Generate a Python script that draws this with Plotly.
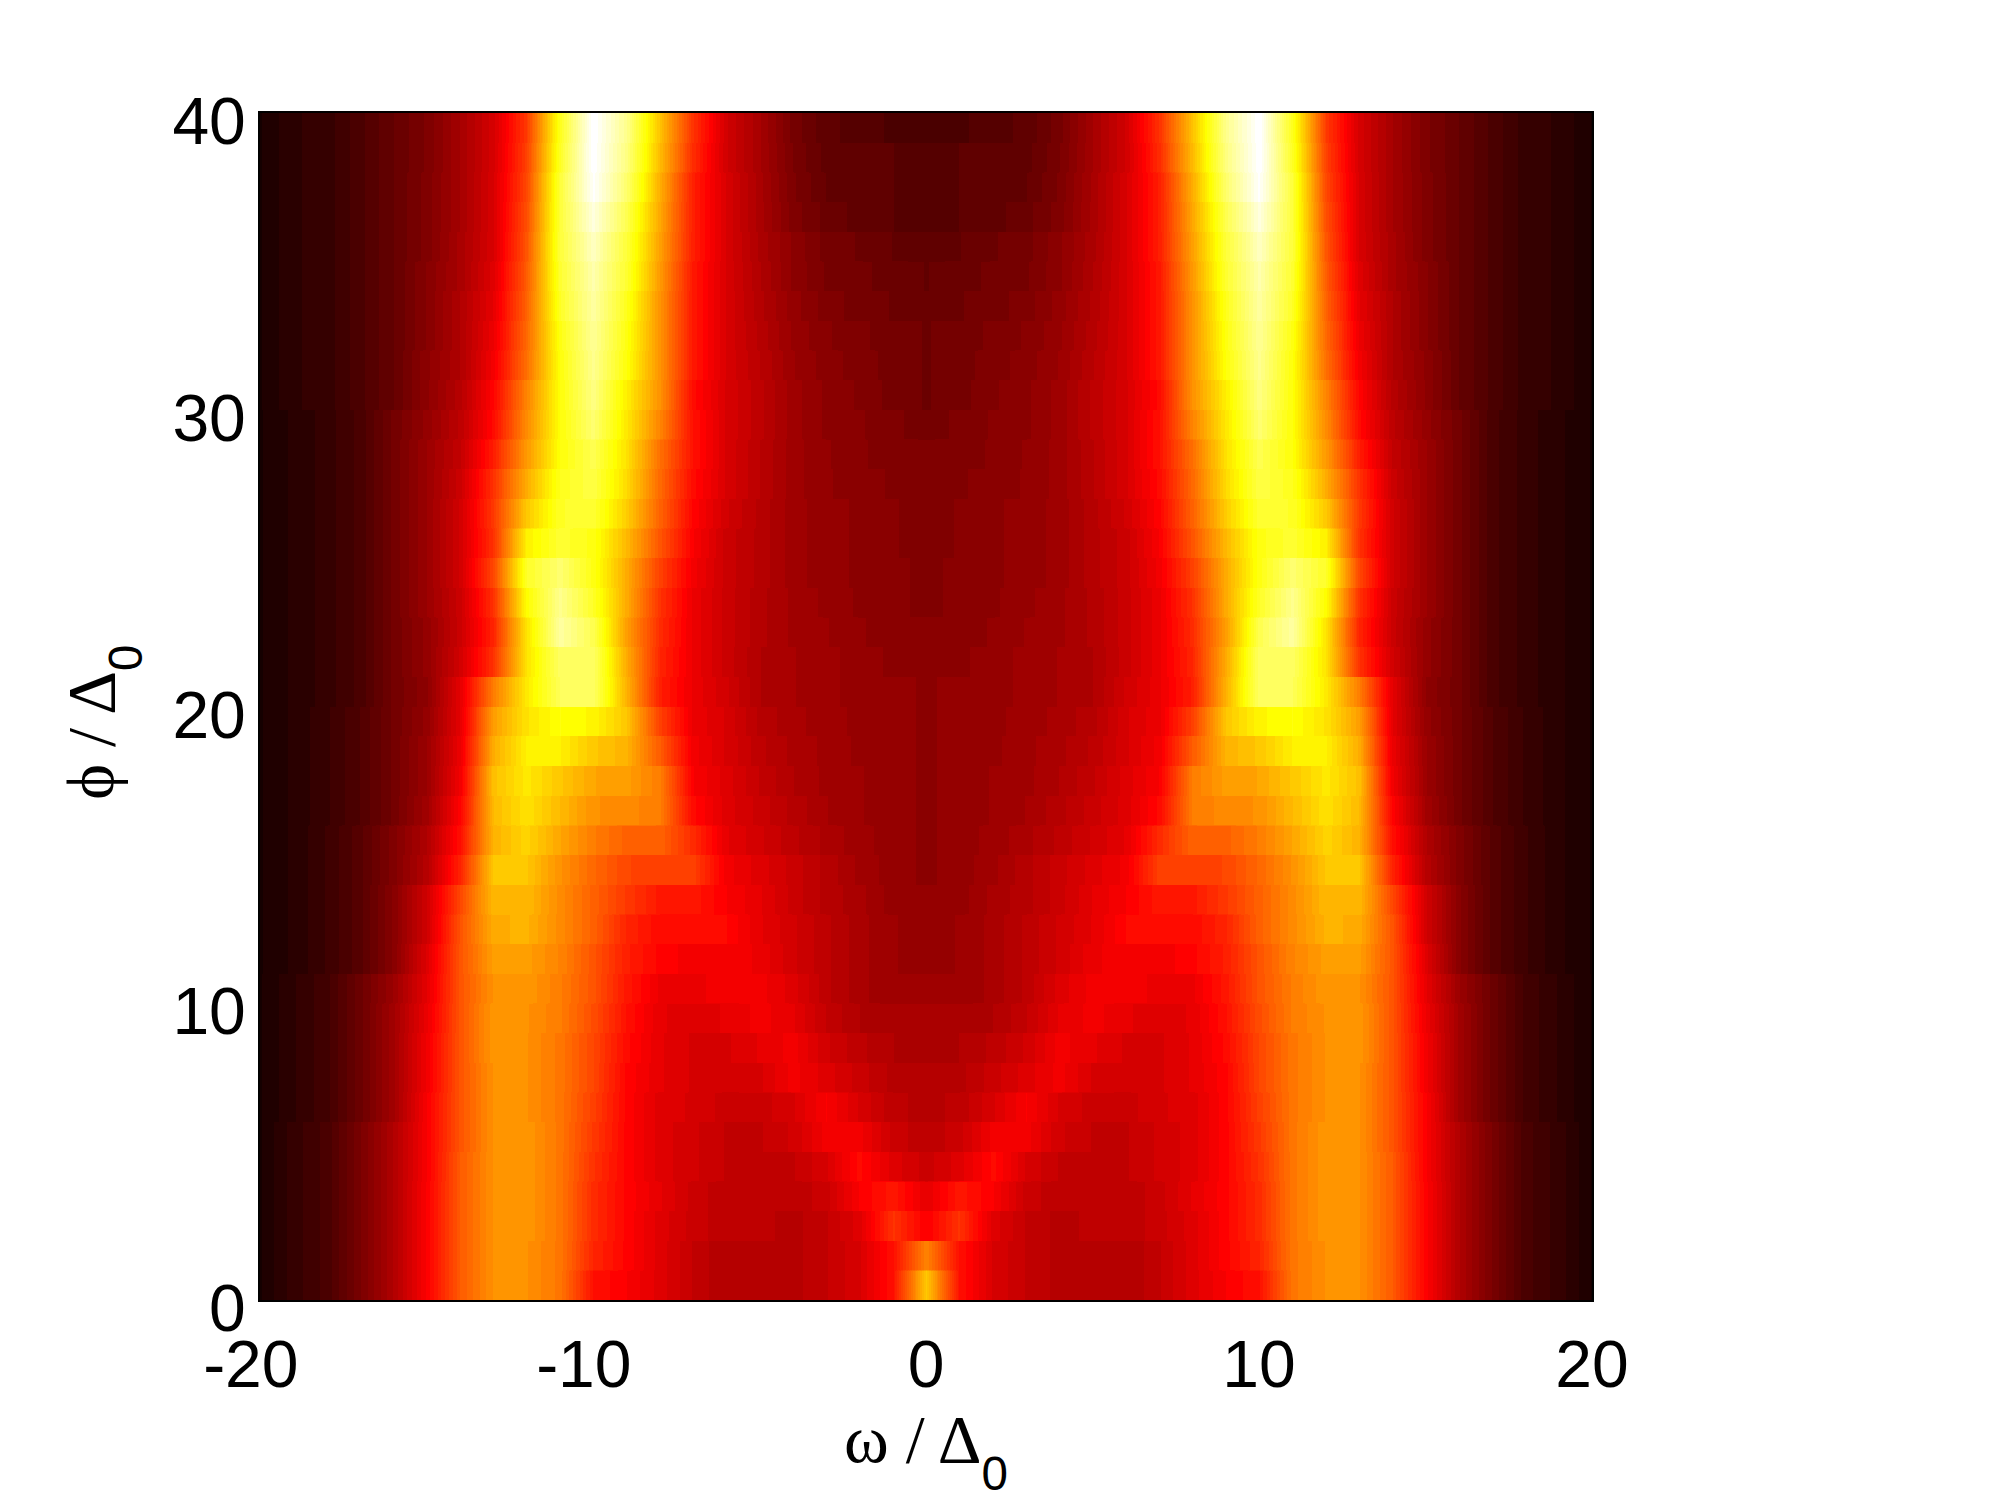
import plotly.graph_objects as go

# Intensity, one row per unit of phi (row 0 = phi 0..1).
# Columns are omega = -20 .. 0; the map is mirror symmetric about omega = 0.
omega_left = list(range(-20, 1))
rows_left = [
 [.03,.07,.10,.17,.25,.365,.50,.58,.58,.54,.39,.36,.32,.28,.25,.25,.26,.28,.31,.39,.66],
 [.03,.07,.10,.17,.25,.365,.50,.58,.58,.54,.42,.37,.32,.28,.25,.25,.26,.28,.31,.39,.56],
 [.03,.07,.10,.17,.25,.365,.50,.58,.59,.54,.43,.37,.32,.29,.27,.27,.26,.28,.32,.44,.36],
 [.03,.07,.10,.17,.25,.365,.50,.58,.59,.54,.43,.37,.33,.29,.27,.27,.27,.29,.36,.40,.33],
 [.03,.07,.10,.17,.25,.36,.50,.58,.59,.54,.44,.37,.32,.30,.28,.28,.28,.31,.38,.32,.29],
 [.03,.07,.10,.17,.25,.36,.49,.58,.59,.54,.45,.37,.32,.30,.28,.28,.30,.35,.35,.29,.27],
 [.03,.06,.09,.15,.23,.36,.49,.58,.58,.54,.46,.37,.32,.31,.29,.29,.31,.36,.31,.27,.26],
 [.03,.06,.09,.15,.23,.35,.49,.58,.58,.54,.47,.37,.33,.31,.30,.31,.35,.32,.29,.26,.26],
 [.03,.06,.09,.15,.23,.35,.49,.59,.58,.54,.47,.38,.33,.31,.31,.33,.35,.30,.27,.25,.245],
 [.03,.06,.09,.15,.23,.34,.49,.59,.58,.55,.48,.39,.33,.32,.33,.35,.33,.28,.25,.235,.235],
 [.03,.06,.09,.15,.22,.33,.49,.58,.59,.55,.49,.40,.34,.34,.35,.35,.32,.27,.24,.22,.22],
 [.03,.05,.08,.12,.19,.32,.49,.60,.60,.56,.49,.41,.37,.35,.355,.34,.30,.27,.24,.22,.21],
 [.03,.05,.08,.12,.19,.30,.49,.62,.63,.57,.51,.42,.38,.375,.375,.33,.30,.27,.24,.22,.21],
 [.03,.05,.08,.12,.19,.30,.47,.64,.64,.57,.51,.45,.40,.40,.36,.33,.29,.26,.24,.21,.21],
 [.03,.05,.08,.12,.18,.26,.42,.66,.66,.58,.52,.47,.46,.46,.35,.32,.29,.26,.23,.21,.20],
 [.03,.05,.08,.12,.18,.25,.39,.63,.68,.61,.55,.51,.51,.43,.33,.30,.27,.245,.225,.21,.20],
 [.03,.05,.075,.11,.16,.23,.37,.64,.70,.64,.58,.57,.55,.38,.32,.29,.26,.235,.22,.21,.20],
 [.03,.05,.075,.11,.16,.22,.35,.65,.71,.66,.61,.60,.55,.36,.32,.28,.25,.23,.22,.21,.20],
 [.03,.05,.075,.11,.16,.22,.34,.62,.72,.72,.66,.63,.50,.35,.31,.27,.245,.23,.215,.21,.20],
 [.03,.05,.075,.11,.16,.21,.33,.60,.70,.75,.73,.66,.46,.34,.31,.26,.24,.225,.215,.21,.20],
 [.03,.05,.07,.10,.16,.20,.33,.55,.71,.83,.84,.63,.41,.34,.30,.25,.235,.225,.21,.21,.20],
 [.03,.05,.07,.10,.16,.21,.30,.44,.70,.84,.84,.62,.42,.34,.29,.25,.235,.225,.21,.20,.19],
 [.03,.05,.07,.10,.16,.21,.29,.42,.70,.90,.82,.60,.43,.34,.29,.255,.23,.22,.205,.195,.19],
 [.03,.05,.07,.10,.16,.22,.29,.44,.74,.88,.78,.62,.44,.34,.29,.255,.23,.215,.20,.19,.185],
 [.03,.05,.07,.10,.16,.22,.30,.47,.78,.85,.76,.62,.46,.35,.29,.26,.225,.21,.20,.19,.185],
 [.03,.05,.07,.10,.16,.22,.30,.44,.72,.79,.76,.64,.49,.36,.29,.26,.225,.21,.20,.19,.175],
 [.03,.05,.07,.10,.16,.22,.30,.45,.66,.78,.79,.67,.51,.37,.30,.26,.225,.21,.20,.19,.175],
 [.03,.05,.07,.10,.16,.22,.29,.44,.62,.77,.81,.69,.52,.38,.31,.265,.225,.205,.195,.185,.175],
 [.03,.05,.07,.10,.16,.22,.28,.41,.59,.75,.82,.70,.53,.39,.31,.265,.225,.205,.19,.18,.175],
 [.03,.05,.07,.10,.16,.21,.27,.38,.57,.75,.85,.71,.56,.39,.31,.27,.225,.20,.19,.175,.165],
 [.03,.06,.07,.105,.14,.20,.26,.37,.56,.75,.87,.72,.58,.38,.31,.27,.225,.20,.185,.165,.155],
 [.03,.06,.07,.105,.14,.20,.25,.35,.53,.75,.88,.75,.58,.40,.31,.265,.22,.195,.18,.165,.155],
 [.03,.06,.07,.105,.14,.19,.25,.34,.52,.76,.89,.76,.58,.40,.31,.26,.215,.19,.175,.165,.155],
 [.03,.06,.07,.105,.14,.19,.25,.33,.51,.78,.90,.77,.58,.40,.31,.255,.21,.18,.165,.155,.145],
 [.03,.06,.07,.105,.14,.19,.24,.32,.50,.79,.91,.79,.59,.40,.31,.25,.20,.17,.16,.15,.14],
 [.03,.06,.07,.105,.14,.18,.24,.31,.49,.80,.93,.80,.60,.41,.31,.245,.20,.165,.155,.14,.13],
 [.03,.06,.07,.105,.14,.18,.235,.31,.48,.80,.96,.82,.61,.41,.31,.24,.18,.15,.135,.125,.118],
 [.03,.06,.07,.105,.14,.18,.235,.31,.47,.80,.99,.85,.62,.41,.31,.24,.175,.14,.13,.125,.118],
 [.03,.06,.07,.105,.14,.176,.235,.306,.46,.78,1.0,.87,.64,.43,.30,.235,.17,.135,.13,.125,.118],
 [.03,.06,.07,.105,.14,.176,.235,.306,.45,.77,1.0,.88,.65,.44,.30,.235,.165,.13,.118,.106,.095],
]
x_ticks = [-20, -10, 0, 10, 20]
x_tick_labels = ["-20\u00a0", "-10\u00a0", "0", "10", "20"]
y_ticks = [0, 10, 20, 30, 40]
y_tick_labels = ["0", "10", "20", "30", "40"]

# Mirror to the full omega range; hold each row constant over its unit of phi.
omega = omega_left + [-w for w in omega_left[-2::-1]]
phi_edges, z = [], []
for i, r in enumerate(rows_left):
    full = r + r[-2::-1]
    phi_edges += [i, i + 0.01, i + 0.99]
    z += [full, full, full]
phi_edges.append(len(rows_left))


def hot64():
    """MATLAB hot(64) as a stepped colorscale."""
    n = 24
    stops = []
    for k in range(64):
        rr = min(1, (k + 1) / n)
        gg = 0 if k < n else min(1, (k + 1 - n) / n)
        bb = 0 if k < 2 * n else (k + 1 - 2 * n) / (64 - 2 * n)
        c = f"rgb({round(rr*255)},{round(gg*255)},{round(bb*255)})"
        stops += [[k / 64, c], [(k + 1) / 64, c]]
    return stops


fig = go.Figure(go.Heatmap(x=omega, y=phi_edges, z=z, zmin=0, zmax=1, zsmooth="best",
                           colorscale=hot64(), showscale=False))

tick_font = dict(family="Liberation Sans", size=66, color="black")
frame = dict(showline=True, linecolor="black", linewidth=2, mirror=True,
             showgrid=False, zeroline=False, ticks="", tickfont=tick_font)
sans0 = "<sub><span style='font-family:Liberation Sans;baseline-shift:-14px'>0</span></sub>"
title_font = dict(family="Liberation Serif", size=68, color="black")
fig.update_layout(
    width=2000, height=1500, margin=dict(l=260, r=408, t=113, b=200),
    paper_bgcolor="white", plot_bgcolor="white",
    xaxis=dict(range=[-20, 20], tickmode="array", tickvals=x_ticks, ticktext=x_tick_labels,
               ticklabelstandoff=6,
               title=dict(text="ω / Δ" + sans0, font=title_font, standoff=10), **frame),
    yaxis=dict(range=[0, 40], tickmode="array", tickvals=y_ticks, ticktext=y_tick_labels,
               ticklabelstandoff=-1, ticklabelshift=8, **frame),
    annotations=[dict(text="ϕ / Δ" + sans0, font=title_font, textangle=-90, showarrow=False,
                      xref="paper", yref="paper", x=-0.118, y=0.487,
                      xanchor="center", yanchor="middle")],
)
fig.write_html("out.html", config=dict(displayModeBar=False),
               post_script="document.body.style.margin='0';")
